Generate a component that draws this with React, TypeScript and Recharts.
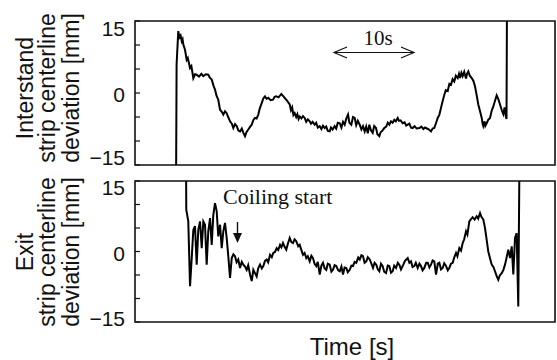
import React from 'react';
import { LineChart, Line, XAxis, YAxis, ReferenceArea } from 'recharts';

// time axis in seconds, deviation in mm
const timeDomain: [number, number] = [0, 52.5];
const devDomain: [number, number] = [-15, 15];
const devTicks = [-15, -10, -5, 0, 5, 10, 15];
const devLabels = [15, 0, -15];

// [time s, deviation mm]
const interstandTrace: [number, number][] = [
  [5.13, -20], [5.2, 6], [5.41, 12.9], [5.55, 11.6], [5.7, 12.0], [5.84, 10.8], [5.95, 11.2], [6.04, 10.1],
  [6.25, 9.0], [6.46, 6.9], [6.6, 7.3], [6.88, 5.2], [7.05, 5.6], [7.29, 3.1], [7.5, 3.9], [7.71, 3.8],
  [8.0, 3.4], [8.3, 4.0], [8.54, 3.5], [8.85, 3.9], [9.16, 3.8], [9.35, 3.2], [9.59, 2.8], [9.8, 1.6],
  [10.0, 0.7], [10.2, -0.6], [10.41, -1.4], [10.63, -3.5], [10.85, -3.9], [11.04, -4.5], [11.25, -3.8],
  [11.46, -4.2], [11.65, -5.0], [11.88, -5.9], [12.1, -6.4], [12.29, -7.3], [12.5, -6.5], [12.71, -6.9],
  [12.92, -7.8], [13.13, -8.0], [13.35, -7.4], [13.55, -8.3], [13.75, -9.0], [13.95, -8.1], [14.16, -7.6],
  [14.4, -7.0], [14.59, -6.6], [14.8, -5.6], [15.0, -5.2], [15.2, -5.3], [15.41, -4.5], [15.6, -3.2],
  [15.84, -2.1], [16.05, -1.1], [16.25, -0.7], [16.45, -1.2], [16.66, -1.0], [16.95, -1.5], [17.25, -1.4],
  [17.45, -0.8], [17.66, -0.7], [17.95, -0.9], [18.29, -0.2], [18.5, -0.6], [18.71, -1.0], [19.0, -1.6],
  [19.34, -2.4], [19.5, -3.6], [19.65, -3.0], [19.8, -4.6], [19.96, -4.2], [20.15, -5.0], [20.3, -4.4],
  [20.45, -5.4], [20.59, -4.9], [20.8, -5.3], [21.0, -4.8], [21.21, -5.2], [21.4, -6.0], [21.6, -5.5],
  [21.84, -5.9], [22.0, -6.4], [22.2, -6.0], [22.46, -6.6], [22.65, -6.2], [22.85, -7.2], [23.09, -6.9],
  [23.3, -7.5], [23.5, -6.8], [23.71, -7.3], [23.9, -7.0], [24.1, -7.9], [24.34, -8.0], [24.5, -7.2],
  [24.7, -7.6], [24.96, -6.9], [25.15, -7.4], [25.35, -6.2], [25.59, -6.3], [25.8, -7.2], [26.0, -6.0],
  [26.21, -6.6], [26.4, -5.4], [26.63, -4.5], [26.8, -6.2], [27.04, -6.6], [27.25, -5.0], [27.46, -5.2],
  [27.65, -6.7], [27.85, -5.8], [28.09, -6.6], [28.3, -7.6], [28.5, -6.9], [28.71, -8.0], [28.9, -7.0],
  [29.1, -8.4], [29.29, -6.6], [29.5, -7.8], [29.71, -8.3], [29.9, -6.9], [30.13, -7.3], [30.3, -8.6],
  [30.54, -9.0], [30.7, -8.2], [30.9, -7.9], [31.16, -7.3], [31.4, -7.0], [31.6, -6.2], [31.79, -6.6],
  [32.0, -5.9], [32.2, -6.2], [32.41, -5.6], [32.6, -5.9], [32.84, -5.2], [33.0, -5.8], [33.2, -5.7],
  [33.46, -6.3], [33.7, -6.1], [33.9, -6.8], [34.09, -6.6], [34.3, -6.4], [34.5, -7.2], [34.71, -7.3],
  [34.95, -6.9], [35.2, -7.4], [35.54, -7.3], [35.8, -7.0], [36.05, -7.5], [36.25, -7.2], [36.5, -7.4],
  [36.75, -7.6], [37.0, -8.0], [37.2, -7.4], [37.41, -7.3], [37.6, -6.4], [37.84, -5.2], [38.05, -4.5],
  [38.25, -3.1], [38.45, -1.7], [38.66, -0.4], [38.85, 0.6], [39.09, 0.4], [39.3, 1.9], [39.5, 1.7],
  [39.7, 2.9], [39.91, 2.4], [40.1, 3.6], [40.34, 3.1], [40.5, 4.0], [40.63, 3.1], [40.8, 4.2], [40.96, 3.5],
  [41.15, 4.4], [41.38, 3.0], [41.5, 4.0], [41.66, 4.5], [41.85, 3.6], [42.09, 3.1], [42.3, 2.5], [42.5, 1.4],
  [42.7, -0.4], [42.91, -2.4], [43.1, -3.6], [43.34, -5.2], [43.45, -6.4], [43.54, -6.9], [43.7, -5.9],
  [43.8, -6.8], [43.96, -6.3], [44.15, -5.6], [44.38, -5.2], [44.6, -3.6], [44.79, -2.8], [45.0, -1.6],
  [45.21, -0.5], [45.4, -1.2], [45.63, -2.4], [45.85, -3.6], [46.04, -4.4], [46.2, -3.0], [46.35, -4.8],
  [46.44, -5.4], [46.5, 20],
];

const exitTrace: [number, number][] = [
  [6.38, 20], [6.41, 8.9], [6.66, 6.4], [6.88, -7.4], [7.09, -1.4], [7.29, 4.6], [7.5, 5.4], [7.71, -2.8],
  [7.91, 4.6], [8.13, 6.4], [8.34, 0.7], [8.54, 6.4], [8.75, 5.7], [8.96, -2.8], [9.16, 4.3], [9.38, 7.1],
  [9.59, 1.4], [9.79, 7.8], [10.0, 10.3], [10.21, 8.6], [10.41, 3.2], [10.63, 5.7], [10.84, 0.7], [11.04, 4.3],
  [11.25, 6.1], [11.46, 2.9], [11.66, -1.0], [11.88, -5.6], [12.09, -1.4], [12.3, -0.6], [12.5, -1.0],
  [12.7, -2.3], [12.91, -1.7], [13.13, -3.5], [13.35, -2.2], [13.54, -2.8], [13.75, -3.2], [13.96, -3.9],
  [14.15, -2.9], [14.38, -4.9], [14.59, -6.3], [14.79, -3.9], [15.0, -4.6], [15.21, -5.3], [15.4, -3.6],
  [15.63, -2.8], [15.85, -3.6], [16.04, -3.1], [16.25, -2.0], [16.46, -1.7], [16.65, -2.3], [16.88, -0.7],
  [17.1, -1.2], [17.29, -0.3], [17.5, -0.1], [17.71, 0.7], [17.9, 0.3], [18.13, 1.4], [18.3, 0.9], [18.5, 1.8],
  [18.7, 1.0], [18.91, 0.4], [19.1, 1.6], [19.34, 2.9], [19.55, 2.0], [19.75, 1.8], [19.95, 2.6], [20.16, 2.2],
  [20.4, 1.1], [20.59, 1.4], [20.8, 0.3], [21.0, -0.7], [21.2, -0.3], [21.41, -1.4], [21.6, -1.0], [21.84, -2.1],
  [22.05, -0.9], [22.25, -1.4], [22.45, -2.6], [22.66, -3.1], [22.85, -2.2], [23.09, -4.9], [23.3, -3.0],
  [23.5, -2.4], [23.7, -3.6], [23.91, -3.9], [24.1, -2.6], [24.34, -2.8], [24.55, -4.3], [24.75, -3.9],
  [24.95, -2.9], [25.16, -3.1], [25.4, -4.0], [25.59, -4.2], [25.8, -3.2], [26.0, -4.9], [26.2, -3.4],
  [26.41, -3.5], [26.6, -4.4], [26.84, -3.9], [27.05, -3.0], [27.25, -3.1], [27.45, -2.2], [27.66, -2.4],
  [27.9, -1.3], [28.09, -1.7], [28.3, -0.8], [28.5, -1.0], [28.7, -2.4], [28.91, -2.1], [29.1, -1.2],
  [29.34, -1.7], [29.55, -2.6], [29.75, -3.5], [29.95, -2.4], [30.16, -2.8], [30.35, -3.8], [30.54, -4.2],
  [30.75, -2.6], [30.96, -3.1], [31.15, -4.3], [31.38, -4.6], [31.6, -3.0], [31.79, -3.1], [32.0, -4.5],
  [32.21, -4.2], [32.4, -3.0], [32.63, -3.5], [32.85, -2.4], [33.04, -2.8], [33.25, -3.8], [33.46, -3.1],
  [33.75, -2.0], [34.09, -1.4], [34.3, -2.4], [34.5, -2.1], [34.7, -3.3], [34.91, -3.1], [35.1, -2.4],
  [35.34, -3.5], [35.55, -2.6], [35.75, -3.1], [35.95, -4.0], [36.16, -3.5], [36.4, -2.4], [36.59, -2.4],
  [36.8, -3.4], [37.0, -2.8], [37.2, -1.9], [37.41, -2.1], [37.63, -4.9], [37.85, -2.6], [38.04, -2.4],
  [38.25, -3.8], [38.46, -3.5], [38.65, -2.5], [38.88, -3.1], [39.1, -4.0], [39.29, -3.5], [39.5, -2.6],
  [39.71, -2.4], [39.9, -1.3], [40.13, -0.3], [40.3, -1.0], [40.54, 0.7], [40.75, 0.2], [40.96, 1.8],
  [41.15, 2.6], [41.38, 4.3], [41.55, 3.6], [41.79, 6.4], [42.0, 6.9], [42.21, 7.3], [42.45, 6.8], [42.71, 7.5],
  [42.9, 7.0], [43.13, 8.2], [43.3, 7.4], [43.54, 6.8], [43.75, 5.0], [43.95, 2.6], [44.16, 0.0], [44.4, -1.6],
  [44.59, -2.8], [44.8, -3.3], [45.0, -4.2], [45.2, -5.2], [45.41, -6.0], [45.6, -5.1], [45.84, -4.6],
  [46.05, -3.9], [46.25, -2.8], [46.45, -1.3], [46.66, 0.4], [46.88, -1.4], [47.09, 1.1], [47.29, -4.9],
  [47.5, 2.9], [47.71, 3.9], [47.91, -11.7], [48.06, 20],
];

const toRows = (trace: [number, number][]) => trace.map(([time, dev]) => ({ time, dev }));

const sans = '"Liberation Sans", Arial, sans-serif';
const serif = '"Liberation Serif", "Times New Roman", serif';

function DevTick(props: any) {
  const { x, y, payload, offsets } = props;
  const v = payload.value as number;
  return (
    <g>
      <line x1={x} x2={x + 5} y1={y} y2={y} stroke="#111" strokeWidth={1.2} />
      {devLabels.includes(v) && (
        <text x={x - 10} y={y + offsets[v]} textAnchor="end" fontSize={21} fontFamily={sans} fill="#111">
          {v < 0 ? `\u2212${-v}` : v}
        </text>
      )}
    </g>
  );
}

function Panel({ rows, height, margin, offsets }: any) {
  return (
    <LineChart width={557} height={height} data={rows} margin={margin}>
      <XAxis type="number" dataKey="time" domain={timeDomain} allowDataOverflow hide />
      <YAxis
        type="number"
        domain={devDomain}
        allowDataOverflow
        ticks={devTicks}
        interval={0}
        width={60}
        axisLine={false}
        tickLine={false}
        tickSize={0}
        tickMargin={0}
        tick={(p: any) => <DevTick {...p} offsets={offsets} />}
      />
      <ReferenceArea x1={timeDomain[0]} x2={timeDomain[1]} y1={-15} y2={15} fill="none" fillOpacity={0} stroke="#111" strokeWidth={1.6} />
      <Line type="linear" dataKey="dev" stroke="#000" strokeWidth={2} dot={false} isAnimationActive={false} />
    </LineChart>
  );
}

function AxisTitle({ lines, cy }: { lines: string[]; cy: number }) {
  const baselines = [33, 55, 79];
  return (
    <g>
      {lines.map((l, i) => (
        <text key={l} transform={`translate(${baselines[i]},${cy}) rotate(-90)`} textAnchor="middle" fontSize={23} fontFamily={sans} fill="#111">
          {l}
        </text>
      ))}
    </g>
  );
}

export default function App() {
  return (
    <div style={{ position: 'absolute', left: 0, top: 0, width: 557, height: 360, background: '#fff' }}>
      <div style={{ position: 'absolute', left: 0, top: 0 }}>
        <Panel rows={toRows(interstandTrace)} height={175} margin={{ top: 21, right: 2, left: 75, bottom: 10 }} offsets={{ 15: 15, 0: 9, [-15]: 0 }} />
      </div>
      <div style={{ position: 'absolute', left: 0, top: 170 }}>
        <Panel rows={toRows(exitTrace)} height={160} margin={{ top: 11, right: 2, left: 75, bottom: 8 }} offsets={{ 15: 14, 0: 9, [-15]: 4 }} />
      </div>
      <svg width={557} height={360} style={{ position: 'absolute', left: 0, top: 0, pointerEvents: 'none' }}>
        <AxisTitle lines={['Interstand', 'strip centerline', 'deviation [mm]']} cy={88} />
        <AxisTitle lines={['Exit', 'strip centerline', 'deviation [mm]']} cy={252} />
        <text x={352} y={355} textAnchor="middle" fontSize={24} fontFamily={sans} fill="#111">Time [s]</text>
        <text x={378} y={45} textAnchor="middle" fontSize={21} fontFamily={serif} fill="#111">10s</text>
        <line x1={334} x2={414} y1={52.5} y2={52.5} stroke="#111" strokeWidth={1.2} />
        <polyline points="347,47 334,52.5 347,58" fill="none" stroke="#111" strokeWidth={1.2} />
        <polyline points="401,47 414,52.5 401,58" fill="none" stroke="#111" strokeWidth={1.2} />
        <text x={223} y={204} fontSize={22} fontFamily={serif} fill="#111">Coiling start</text>
        <line x1={237.5} x2={237.5} y1={222} y2={234} stroke="#111" strokeWidth={1.4} />
        <polygon points="233,233 242,233 237.5,243" fill="#111" />
      </svg>
    </div>
  );
}
